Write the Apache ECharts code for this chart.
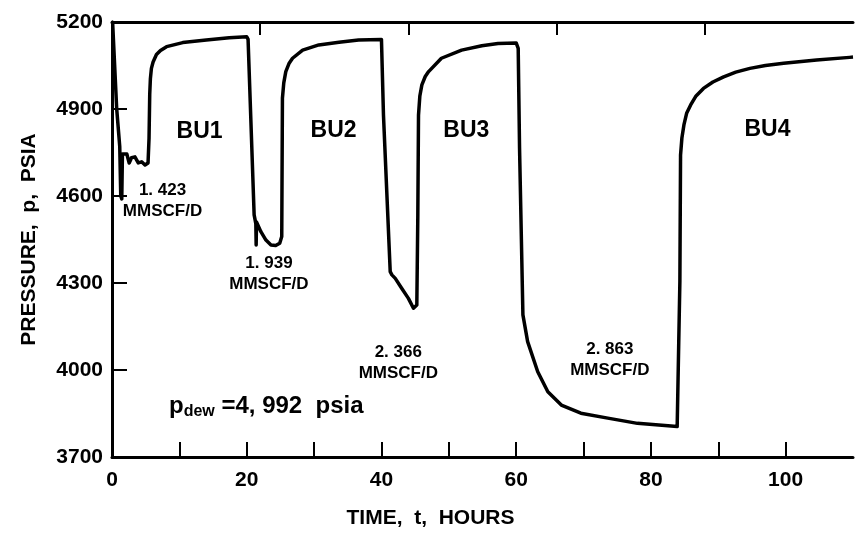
<!DOCTYPE html>
<html>
<head>
<meta charset="utf-8">
<script src="https://cdn.jsdelivr.net/npm/echarts@6/dist/echarts.min.js"></script>
<style>
  html, body { margin: 0; padding: 0; background: #fff; }
  #chart { width: 855px; height: 534px; }
</style>
</head>
<body>
<div id="chart"></div>
<script>
// time (hours) and pressure (psia), four drawdowns + buildups
const timeHours = [
  0.1, 0.7, 1.15, 1.3, 1.45, 1.55, 2.2, 2.55, 2.9, 3.4, 3.9, 4.4, 4.9, 5.35,
  5.5, 5.6, 5.7, 5.85, 6.1, 6.6, 7.2, 8.1, 10.5, 14.0, 17.4, 20.0,
  20.2, 21.1, 21.35, 21.4, 21.45, 21.6, 22.1, 22.85, 23.6, 24.3, 24.9, 25.2,
  25.3, 25.5, 25.8, 26.3, 26.8, 28.3, 30.7, 33.7, 36.6, 40.0,
  40.3, 41.3, 41.55, 42.05, 43.0, 44.0, 44.75, 45.25, 45.4, 45.5, 45.7, 46.0,
  46.5, 47.0, 48.9, 51.9, 54.9, 57.3, 60.0,
  60.3, 60.5, 61.0, 61.7, 63.2, 64.7, 66.7, 69.6, 73.6, 78.0, 83.9, 84.15,
  84.3, 84.4, 84.6, 84.9, 85.3, 85.9, 86.7, 87.8, 89.2, 90.8, 92.6, 94.7, 97.0,
  99.7, 104.6, 109.5, 110
];
const pressurePsia = [
  5195, 4900, 4770, 4600, 4590, 4745, 4745, 4714, 4732, 4735, 4714, 4718, 4707, 4714,
  4800, 4950, 5005, 5040, 5062, 5088, 5102, 5115, 5129, 5138, 5146, 5149,
  5140, 4535, 4505, 4431, 4510, 4506, 4477, 4448, 4431, 4429, 4437, 4460,
  4937, 4990, 5029, 5058, 5075, 5103, 5121, 5130, 5138, 5140,
  4879, 4339, 4328, 4316, 4282, 4247, 4213, 4224, 4535, 4879, 4945, 4983,
  5012, 5029, 5075, 5103, 5118, 5126, 5128,
  5109, 4765, 4190, 4098, 3994, 3925, 3879, 3851, 3834, 3816, 3805, 3799,
  4305, 4741, 4800, 4845, 4885, 4914, 4945, 4971, 4993, 5011, 5027, 5040, 5050,
  5058, 5069, 5078, 5079
];

const xTickValues = [10, 20, 30, 40, 50, 60, 70, 80, 90, 100];
const xLabelValues = [0, 20, 40, 60, 80, 100];
const yTickValues = [3700, 4000, 4300, 4600, 4900, 5200];
const topTickValues = [22, 44, 66, 88];

const points = timeHours.map((t, i) => [t, pressurePsia[i]]);

const FONT = '"Liberation Sans", Arial, sans-serif';
const axisLine = { show: true, lineStyle: { color: '#000', width: 3 } };

function note(coord, text, size) {
  return {
    coord: coord,
    symbol: 'circle',
    symbolSize: 0,
    label: {
      show: true,
      position: 'inside',
      formatter: text,
      color: '#000',
      fontFamily: FONT,
      fontWeight: 'bold',
      fontSize: size,
      lineHeight: size + 4,
      align: 'center',
      verticalAlign: 'middle'
    }
  };
}

const chart = echarts.init(document.getElementById('chart'));
chart.setOption({
  backgroundColor: '#fff',
  animation: false,
  grid: { left: 112, right: 2, top: 22, bottom: 77 },
  xAxis: [
    {
      type: 'value', position: 'bottom', min: 0, max: 110,
      axisLine: axisLine,
      axisTick: { inside: true, length: 15, customValues: xTickValues, lineStyle: { color: '#000', width: 2 } },
      axisLabel: { customValues: xLabelValues, color: '#000', fontFamily: FONT, fontWeight: 'bold', fontSize: 21, margin: 13 },
      splitLine: { show: false },
      name: 'TIME,  t,  HOURS', nameLocation: 'middle', nameGap: 51,
      nameTextStyle: { color: '#000', fontFamily: FONT, fontWeight: 'bold', fontSize: 21, padding: [0, 104, 0, 0] }
    },
    {
      type: 'value', position: 'top', min: 0, max: 110,
      axisLine: axisLine,
      axisTick: { inside: true, length: 13, customValues: topTickValues, lineStyle: { color: '#000', width: 2 } },
      axisLabel: { show: false },
      splitLine: { show: false }
    }
  ],
  yAxis: [
    {
      type: 'value', position: 'left', min: 3700, max: 5200,
      axisLine: axisLine,
      axisTick: { inside: true, length: 15, customValues: yTickValues, lineStyle: { color: '#000', width: 2 } },
      axisLabel: {
        customValues: yTickValues, formatter: v => String(v),
        color: '#000', fontFamily: FONT, fontWeight: 'bold', fontSize: 21, margin: 9
      },
      splitLine: { show: false },
      name: 'PRESSURE,  p,  PSIA', nameLocation: 'middle', nameGap: 72,
      nameTextStyle: { color: '#000', fontFamily: FONT, fontWeight: 'bold', fontSize: 21 }
    },
    {
      type: 'value', position: 'right', min: 3700, max: 5200,
      axisLine: axisLine,
      axisTick: { show: false },
      axisLabel: { show: false },
      splitLine: { show: false }
    }
  ],
  series: [
    {
      name: 'pressure',
      type: 'line',
      xAxisIndex: 0,
      yAxisIndex: 0,
      data: points,
      showSymbol: false,
      lineStyle: { color: '#000', width: 3.5, join: 'round' },
      markPoint: {
        silent: true,
        data: [
          note([13.0, 4821], 'BU1', 23),
          note([32.9, 4824], 'BU2', 23),
          note([52.6, 4824], 'BU3', 23),
          note([97.3, 4828], 'BU4', 23),
          note([7.5, 4583], '1. 423\nMMSCF/D', 17),
          note([23.3, 4333], '1. 939\nMMSCF/D', 17),
          note([42.5, 4024], '2. 366\nMMSCF/D', 17),
          note([73.9, 4035], '2. 863\nMMSCF/D', 17),
          {
            coord: [22.9, 3876],
            symbolSize: 0,
            label: {
              show: true,
              position: 'inside',
              formatter: '{p|p}{s|dew}{p| =4, 992  psia}',
              rich: {
                p: { color: '#000', fontFamily: FONT, fontWeight: 'bold', fontSize: 24, verticalAlign: 'bottom' },
                s: { color: '#000', fontFamily: FONT, fontWeight: 'bold', fontSize: 16, verticalAlign: 'bottom', padding: [0, 0, -2, 0] }
              }
            }
          }
        ]
      }
    }
  ]
});
</script>
</body>
</html>
